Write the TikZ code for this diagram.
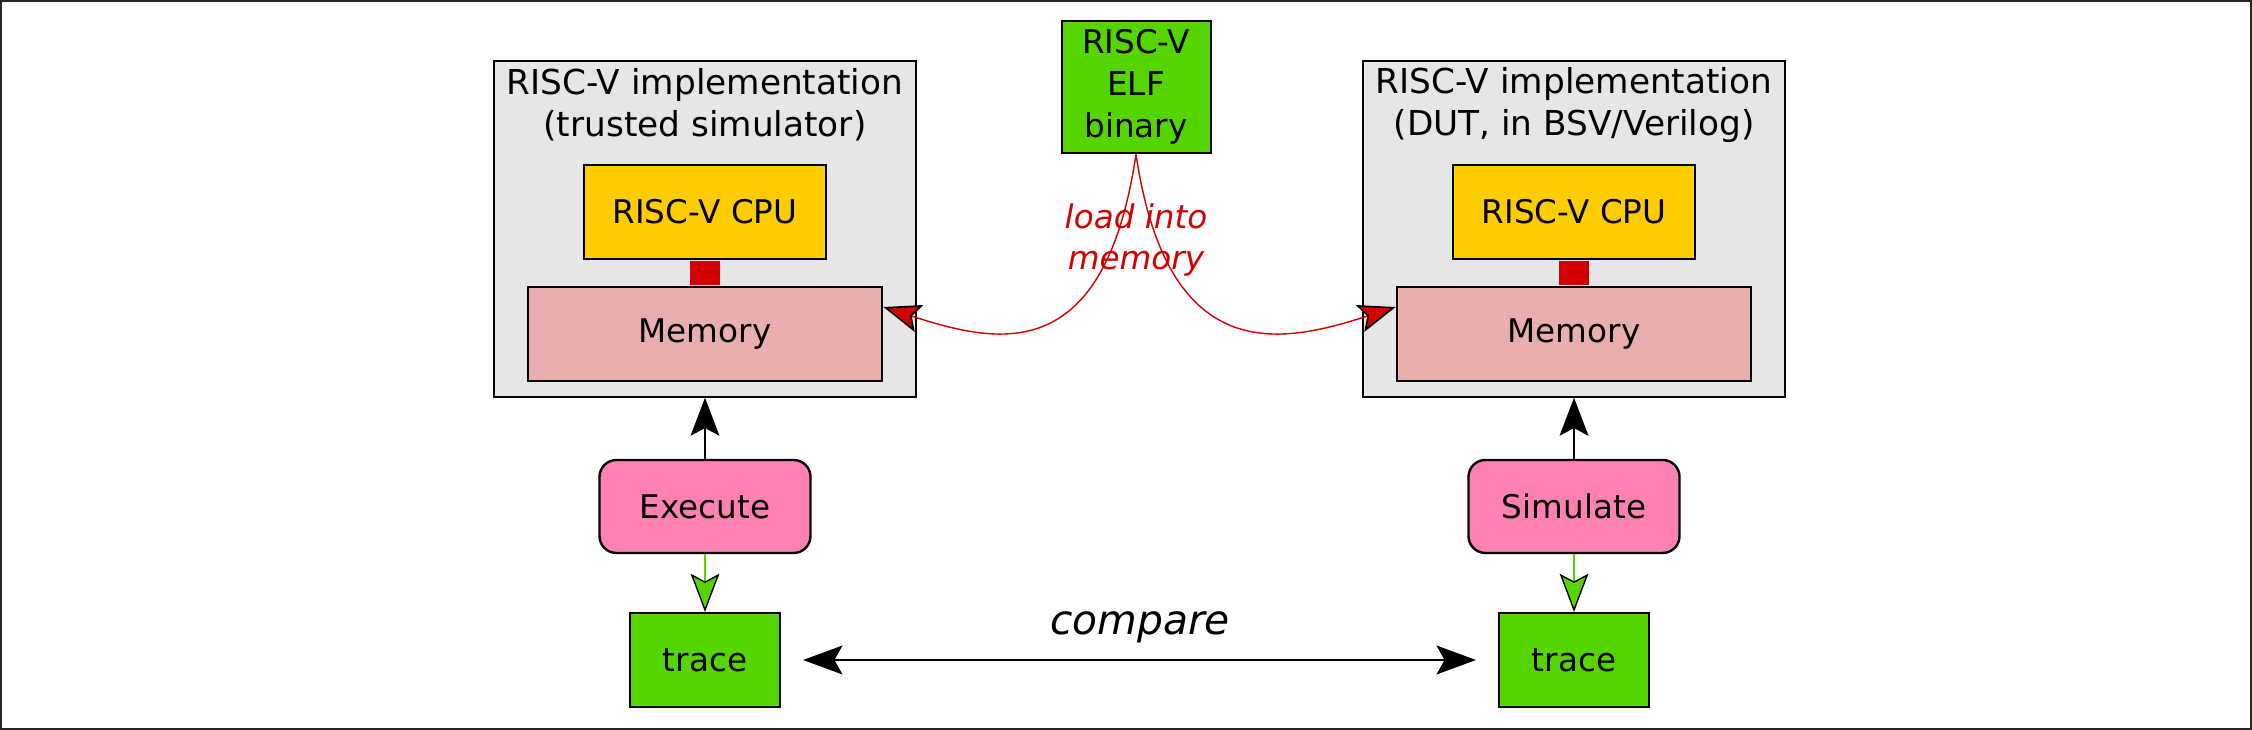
\documentclass[tikz,border=0pt]{standalone}
\usepackage{fontspec}
\setmainfont{DejaVu Sans}
\usetikzlibrary{arrows.meta,calc}

\definecolor{boxgray}{HTML}{E6E6E6}
\definecolor{cpuyellow}{HTML}{FFCC00}
\definecolor{memrose}{HTML}{E9AFAF}
\definecolor{linkred}{HTML}{D40000}
\definecolor{elfgreen}{HTML}{55D400}
\definecolor{actpink}{HTML}{FF80B2}

\begin{document}
\begin{tikzpicture}[scale=1.0,
  font=\fontsize{11.6pt}{14.9pt}\selectfont,
  impl/.style={draw=black,line width=0.7pt,fill=boxgray,minimum width=5.284cm,minimum height=4.196cm,inner sep=0pt},
  title/.style={font=\fontsize{12.2pt}{14.9pt}\selectfont,align=center},
  cpu/.style={draw=black,line width=0.7pt,fill=cpuyellow,minimum width=3.025cm,minimum height=1.175cm,inner sep=0pt},
  mem/.style={draw=black,line width=0.7pt,fill=memrose,minimum width=4.435cm,minimum height=1.175cm,inner sep=0pt},
  action/.style={draw=black,line width=0.85pt,fill=actpink,rounded corners=6pt,minimum width=2.6375cm,minimum height=1.1625cm,inner sep=0pt},
  tracebox/.style={draw=black,line width=0.7pt,fill=elfgreen,minimum width=1.875cm,minimum height=1.175cm,inner sep=0pt},
  elfbox/.style={draw=black,line width=0.7pt,fill=elfgreen,minimum width=1.8625cm,minimum height=1.6575cm,inner sep=0pt,align=center},
  note/.style={font=\fontsize{11.6pt}{14.9pt}\selectfont\itshape,text=linkred,align=center},
  upper/.style={line width=0.95pt,-{Stealth[length=13.5pt,width=10.2pt,inset=2.7pt]}},
  lower/.style={elfgreen,line width=0.7pt,-{Stealth[length=13.6pt,width=10.2pt,inset=2.7pt,fill=elfgreen,color=black,line width=0.5pt]}},
  load/.style={linkred,line width=0.5pt,-{Stealth[length=13.3pt,width=10pt,inset=2.7pt,fill=linkred,color=black,line width=0.6pt]}},
  both/.style={line width=1.05pt,{Stealth[length=14pt,width=10.2pt,inset=2.8pt]}-{Stealth[length=14pt,width=10.2pt,inset=2.8pt]},shorten <=0.275cm,shorten >=0.275cm}]

\useasboundingbox (0,0) rectangle (28.15,9.125);
\draw[line width=0.7pt,black!85] (0.0125,0.0125) rectangle (28.1375,9.1125);

% the two implementations
\node[impl] (lsim) at (8.8125,6.264) {};
\node[title] (ltitle) at (8.8125,7.816) {RISC-V implementation\\(trusted simulator)};
\node[cpu] (lcpu) at (8.8125,6.475) {RISC-V CPU};
\node[mem] (lmem) at (8.8125,4.95) {Memory};
\fill[linkred] ([xshift=-0.1875cm,yshift=-0.35pt]lcpu.south) rectangle ([xshift=0.1875cm,yshift=0.35pt]lmem.north);

\node[impl] (rsim) at (19.675,6.264) {};
\node[title] (rtitle) at (19.675,7.816) {RISC-V implementation\\(DUT, in BSV/Verilog)};
\node[cpu] (rcpu) at (19.675,6.475) {RISC-V CPU};
\node[mem] (rmem) at (19.675,4.95) {Memory};
\fill[linkred] ([xshift=-0.1875cm,yshift=-0.35pt]rcpu.south) rectangle ([xshift=0.1875cm,yshift=0.35pt]rmem.north);

\node[elfbox] (elf) at (14.2,8.0375) {RISC-V\\ELF\\binary};
\node[note] (loadlbl) at (14.2,6.125) {load into\\memory};

\node[action] (lexec) at (8.8125,2.794) {Execute};
\node[action] (rexec) at (19.675,2.794) {Simulate};
\node[tracebox] (ltrace) at (8.8125,0.875) {trace};
\node[tracebox] (rtrace) at (19.675,0.875) {trace};
\node[anchor=base,font=\fontsize{14.5pt}{18pt}\selectfont\itshape] (cmplbl) at (14.25,1.1875) {compare};

% connectors
\draw[load] (elf.south) .. controls +(-0.4,-2.7) and +(1.4,-0.45) .. ($(lmem.north east)+(0,-0.2625)$);
\draw[load] (elf.south) .. controls +(0.4,-2.7) and +(-1.4,-0.45) .. ($(rmem.north west)+(0,-0.2625)$);

\draw[upper] (lexec) -- (lsim);
\draw[upper] (rexec) -- (rsim);
\draw[lower] (lexec) -- (ltrace);
\draw[lower] (rexec) -- (rtrace);
\draw[both] (ltrace) -- (rtrace);

\end{tikzpicture}
\end{document}
